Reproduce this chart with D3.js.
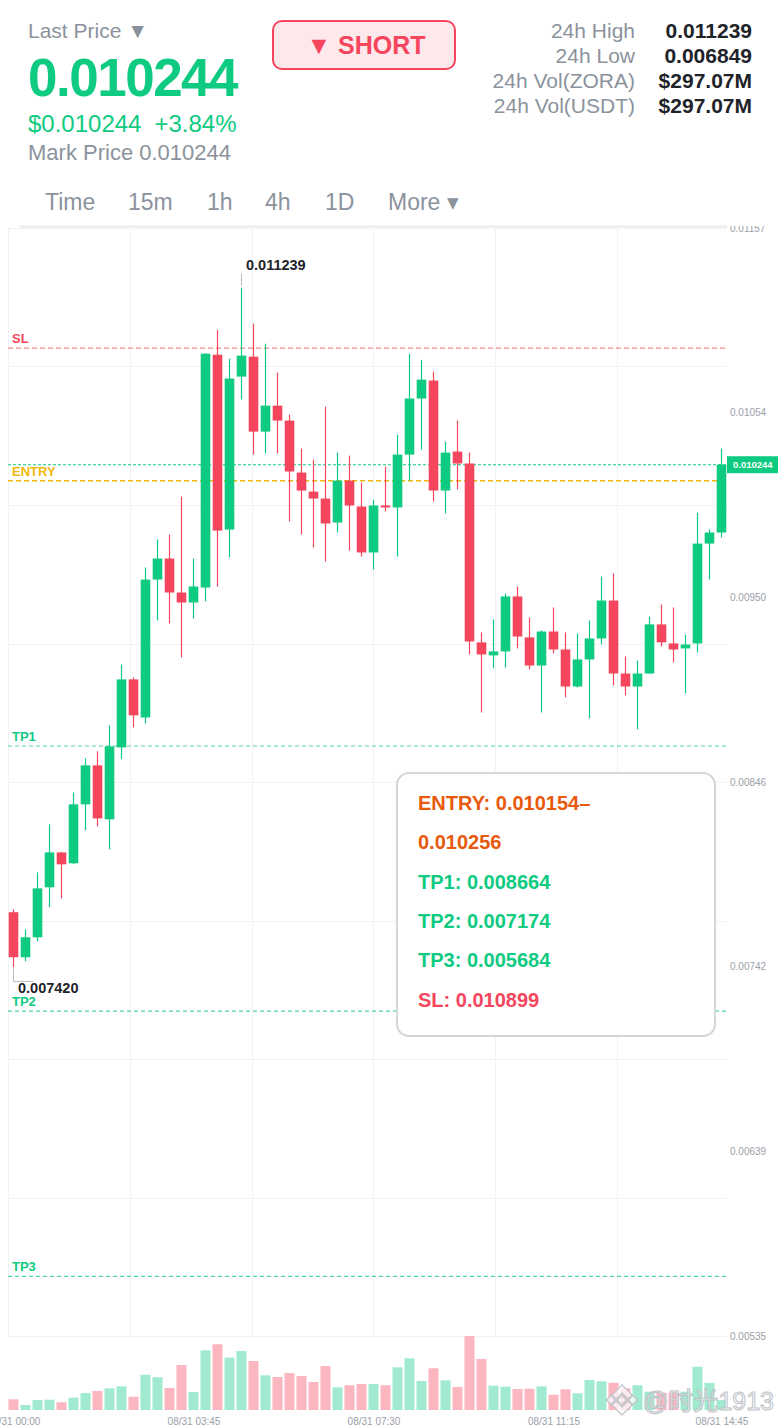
<!DOCTYPE html>
<html>
<head>
<meta charset="utf-8">
<script src="https://cdn.jsdelivr.net/npm/d3@7"></script>
<style>
    body { margin: 0; background: #fff; }
    svg { display: block; font-family: "Liberation Sans", Arial, sans-serif; }
</style>
</head>
<body>
<div id="chart"></div>
<script>
// 15m candles, 08/31 00:00 .. 14:45
const openP = [
    0.007730, 0.007477, 0.007589, 0.007870, 0.008066, 0.008005, 0.008336, 0.008555, 0.008252, 0.008656,
    0.009038, 0.008824, 0.009599, 0.009717, 0.009526, 0.009470, 0.009554, 0.010862, 0.009880, 0.010739,
    0.010851, 0.010430, 0.010576, 0.010492, 0.010200, 0.010093, 0.010054, 0.009919, 0.010155, 0.010009,
    0.009751, 0.010015, 0.010004, 0.010301, 0.010616, 0.010717, 0.010099, 0.010318, 0.010251, 0.009246,
    0.009173, 0.009195, 0.009504, 0.009274, 0.009116, 0.009307, 0.009206, 0.008998, 0.009150, 0.009268,
    0.009481, 0.009071, 0.008998, 0.009071, 0.009347, 0.009240, 0.009212, 0.009240, 0.009801, 0.009863
];
const highP = [
    0.007746, 0.007634, 0.007954, 0.008224, 0.008066, 0.008403, 0.008594, 0.008634, 0.008779, 0.009122,
    0.009049, 0.009667, 0.009824, 0.009852, 0.010065, 0.009717, 0.010870, 0.011003, 0.010840, 0.011239,
    0.011037, 0.010924, 0.010762, 0.010526, 0.010335, 0.010273, 0.010571, 0.010312, 0.010295, 0.010144,
    0.010048, 0.010234, 0.010413, 0.010868, 0.010834, 0.010767, 0.010374, 0.010492, 0.010312, 0.009302,
    0.009375, 0.009521, 0.009560, 0.009386, 0.009313, 0.009442, 0.009302, 0.009296, 0.009369, 0.009616,
    0.009633, 0.009167, 0.009144, 0.009391, 0.009459, 0.009442, 0.009290, 0.009975, 0.009880, 0.010335
];
const lowP = [
    0.007420, 0.007454, 0.007567, 0.007758, 0.007808, 0.008000, 0.008190, 0.008212, 0.008083, 0.008589,
    0.008768, 0.008791, 0.009369, 0.009352, 0.009161, 0.009380, 0.009476, 0.009560, 0.009723, 0.010610,
    0.010301, 0.010307, 0.010307, 0.009925, 0.009852, 0.009779, 0.009700, 0.009863, 0.009762, 0.009728,
    0.009655, 0.009981, 0.009728, 0.010155, 0.010329, 0.010037, 0.009970, 0.010105, 0.009178, 0.008852,
    0.009100, 0.009105, 0.009212, 0.009094, 0.008852, 0.009184, 0.008937, 0.008993, 0.008819, 0.009234,
    0.009004, 0.008948, 0.008757, 0.009071, 0.009223, 0.009133, 0.008959, 0.009189, 0.009599, 0.009835
];
const closeP = [
    0.007477, 0.007589, 0.007864, 0.008066, 0.007999, 0.008336, 0.008555, 0.008257, 0.008662, 0.009038,
    0.008836, 0.009599, 0.009717, 0.009526, 0.009470, 0.009560, 0.010868, 0.009874, 0.010728, 0.010857,
    0.010430, 0.010576, 0.010492, 0.010206, 0.010099, 0.010054, 0.009914, 0.010155, 0.010015, 0.009751,
    0.010015, 0.010004, 0.010301, 0.010616, 0.010722, 0.010099, 0.010312, 0.010251, 0.009251, 0.009178,
    0.009195, 0.009504, 0.009279, 0.009116, 0.009307, 0.009206, 0.008998, 0.009150, 0.009268, 0.009481,
    0.009071, 0.008998, 0.009071, 0.009347, 0.009246, 0.009206, 0.009234, 0.009801, 0.009863, 0.010244
];
// volume, millions
const volume = [
    10.7, 5.0, 10.0, 10.3, 7.7, 12.3, 17.0, 19.0, 21.7, 23.7,
    13.3, 35.3, 32.7, 22.0, 45.0, 18.0, 59.7, 65.7, 52.3, 59.0,
    49.0, 34.7, 33.0, 37.0, 34.0, 28.0, 44.0, 22.7, 24.7, 26.0,
    26.0, 24.7, 42.7, 51.7, 29.0, 41.7, 29.7, 23.0, 74.0, 51.0,
    24.3, 23.3, 21.0, 21.3, 23.7, 15.3, 20.7, 16.7, 30.0, 28.7,
    27.3, 21.7, 24.7, 18.3, 17.3, 17.3, 18.3, 43.3, 27.0, 10.0
];

const timeTickIdx = [0, 15, 30, 45, 59];
const timeTickLabels = ['08/31 00:00', '08/31 03:45', '08/31 07:30', '08/31 11:15', '08/31 14:45'];
const priceTicks = [0.011574, 0.0105365, 0.009499, 0.0084615, 0.007424, 0.0063865, 0.005349];

const levelNames = ['SL', 'ENTRY', 'TP1', 'TP2', 'TP3'];
const levelValues = [0.010899, 0.010154, 0.008664, 0.007174, 0.005684];
const entryHigh = 0.010256;

const lastPrice = 0.010244;
const changePct = 3.84;
const statLabels = ['24h High', '24h Low', '24h Vol(ZORA)', '24h Vol(USDT)'];
const statValues = ['0.011239', '0.006849', '$297.07M', '$297.07M'];
const intervals = ['Time', '15m', '1h', '4h', '1D', 'More ▾'];

const GREEN = '#0ecb81', RED = '#f6465d', GREY = '#8b929c', GOLD = '#f0b90b';

function drawChart() {
    let svgWidth = 780,
        svgHeight = 1428,
        pane = {left: 8, right: 727, top: 228, bottom: 1336, volBottom: 1410},
        svg = d3.select('#chart').append('svg')
                .attr('width', svgWidth)
                .attr('height', svgHeight);

    let data = openP.map((o, i) => ({
        i: i, open: o, high: highP[i], low: lowP[i], close: closeP[i], vol: volume[i]
    }));

    // scales
    let xScale = d3.scaleLinear().domain([0, data.length - 1]).range([13.5, 721.5]),
        yScale = d3.scaleLinear().domain([0.005349, 0.011574]).range([pane.bottom, pane.top]),
        vScale = d3.scaleLinear().domain([0, d3.max(volume)]).range([pane.volBottom, pane.bottom]);

    setUpGrid(svg, pane, yScale);
    setUpLevels(svg, pane, yScale);
    drawVolume(svg, data, xScale, vScale);
    drawCandles(svg, data, xScale, yScale);
    drawExtremes(svg, data, xScale, yScale);
    setUpAxes(svg, pane, xScale, yScale);
    setUpInfoBox(svg);
    setUpHeader(svg, pane);
    setUpWatermark(svg);
}

function setUpGrid(svg, pane, yScale) {
    let grid = svg.append('g').attr('class', 'grid')
                  .attr('stroke', '#f1f2f4').attr('stroke-width', 1);
    // 8 horizontal bands
    let [lo, hi] = yScale.domain();
    grid.selectAll('line.h')
        .data(d3.range(9).map(k => lo + (hi - lo) * k / 8))
        .enter().append('line')
        .attr('class', 'h')
        .attr('x1', pane.left).attr('x2', pane.right)
        .attr('y1', d => Math.round(yScale(d)) + .5)
        .attr('y2', d => Math.round(yScale(d)) + .5);
    grid.selectAll('line.v')
        .data(d3.range(6))
        .enter().append('line')
        .attr('class', 'v')
        .attr('x1', k => Math.round(pane.left + 121.8 * k) + .5)
        .attr('x2', k => Math.round(pane.left + 121.8 * k) + .5)
        .attr('y1', pane.top).attr('y2', pane.bottom);
}

function setUpLevels(svg, pane, yScale) {
    let g = svg.append('g').attr('class', 'levels');
    let colorOf = name => name === 'SL' ? RED : name === 'ENTRY' ? GOLD : GREEN;

    // last price line
    g.append('line')
     .attr('x1', pane.left).attr('x2', pane.right)
     .attr('y1', yScale(lastPrice)).attr('y2', yScale(lastPrice))
     .attr('stroke', GREEN).attr('stroke-width', 1.1)
     .attr('stroke-dasharray', '3,2');

    levelNames.forEach((name, i) => {
        let y = yScale(levelValues[i]);
        g.append('line')
         .attr('x1', pane.left).attr('x2', pane.right)
         .attr('y1', y).attr('y2', y)
         .attr('stroke', colorOf(name))
         .attr('stroke-opacity', name === 'SL' ? .65 : name === 'ENTRY' ? 1 : .75)
         .attr('stroke-width', name.startsWith('TP') ? 1.1 : 1.3)
         .attr('stroke-dasharray', name.startsWith('TP') ? '4,3' : '5,3');
        g.append('text')
         .attr('x', 12).attr('y', y - 5)
         .attr('fill', colorOf(name))
         .attr('font-weight', 'bold').attr('font-size', 13)
         .text(name);
    });
}

function drawVolume(svg, data, xScale, vScale) {
    svg.append('g').attr('class', 'volume')
       .selectAll('rect')
       .data(data).enter().append('rect')
       .attr('x', d => xScale(d.i) - 5)
       .attr('width', 10)
       .attr('y', d => vScale(d.vol))
       .attr('height', d => vScale(0) - vScale(d.vol))
       .attr('fill', d => d.close >= d.open ? '#a0ebcf' : '#fbb6bf');
}

function drawCandles(svg, data, xScale, yScale) {
    let candles = svg.append('g').attr('class', 'candles')
                     .selectAll('g')
                     .data(data).enter().append('g');
    candles.append('line')
           .attr('x1', d => xScale(d.i)).attr('x2', d => xScale(d.i))
           .attr('y1', d => yScale(d.high)).attr('y2', d => yScale(d.low))
           .attr('stroke', d => d.close >= d.open ? GREEN : RED)
           .attr('stroke-width', 1.2);
    candles.append('rect')
           .attr('x', d => xScale(d.i) - 4.8)
           .attr('width', 9.6)
           .attr('y', d => yScale(Math.max(d.open, d.close)))
           .attr('height', d => Math.max(1.5, Math.abs(yScale(d.open) - yScale(d.close))))
           .attr('fill', d => d.close >= d.open ? GREEN : RED);
}

function drawExtremes(svg, data, xScale, yScale) {
    let g = svg.append('g').attr('class', 'extremes')
               .attr('font-weight', 'bold').attr('font-size', 14.5)
               .attr('fill', '#1e2329'),
        hi = data[d3.maxIndex(data, d => d.high)],
        lo = data[d3.minIndex(data, d => d.low)],
        hx = xScale(hi.i), hy = yScale(hi.high),
        lx = xScale(lo.i), ly = yScale(lo.low);

    g.append('line')
     .attr('x1', hx).attr('x2', hx).attr('y1', hy - 14).attr('y2', hy - 2)
     .attr('stroke', '#b7bcc4').attr('stroke-width', 1);
    g.append('text').attr('x', hx + 4.5).attr('y', hy - 18)
     .text(hi.high.toFixed(6));

    g.append('path')
     .attr('d', `M${lx},${ly + 1}V${ly + 14}H${lx + 20}`)
     .attr('fill', 'none').attr('stroke', '#b7bcc4').attr('stroke-width', 1);
    g.append('text').attr('x', lx + 4.5).attr('y', ly + 26)
     .text(lo.low.toFixed(6));
}

function setUpAxes(svg, pane, xScale, yScale) {
    let yAxis = d3.axisRight(yScale)
                  .tickValues(priceTicks)
                  .tickFormat(d3.format('.5f'))
                  .tickSize(0).tickPadding(3);
    svg.append('g')
       .attr('class', 'axis y-axis')
       .attr('transform', `translate(${pane.right}, 0)`)
       .call(yAxis);
    let xAxis = d3.axisBottom(xScale)
                  .tickValues(timeTickIdx)
                  .tickFormat((d, i) => timeTickLabels[i])
                  .tickSize(0).tickPadding(0);
    svg.append('g')
       .attr('class', 'axis x-axis')
       .attr('transform', 'translate(0, 1418)')
       .call(xAxis);

    svg.selectAll('.axis path.domain').remove();
    svg.selectAll('.axis text')
       .attr('fill', '#9aa0a8')
       .attr('font-size', 10)
       .attr('font-family', '"Liberation Sans", Arial, sans-serif');

    // current price tag
    let tag = svg.append('g').attr('transform', `translate(${pane.right}, ${yScale(lastPrice)})`);
    tag.append('rect').attr('x', 0).attr('y', -8.5).attr('width', 51).attr('height', 17)
       .attr('fill', GREEN);
    tag.append('text').attr('x', 6).attr('y', 3.5)
       .attr('fill', '#fff').attr('font-weight', 'bold').attr('font-size', 9.5)
       .text(lastPrice.toFixed(6));
}

function setUpInfoBox(svg) {
    let box = svg.append('g').attr('class', 'info-box')
                 .attr('transform', 'translate(397, 773)')
                 .attr('font-weight', 'bold').attr('font-size', 20);
    box.append('rect')
       .attr('width', 318).attr('height', 263).attr('rx', 12)
       .attr('fill', '#fff').attr('stroke', '#d3d6db').attr('stroke-width', 2);
    let lines = [
        [`ENTRY: ${levelValues[1].toFixed(6)}–`, '#e8590c'],
        [entryHigh.toFixed(6), '#e8590c'],
        [`TP1: ${levelValues[2].toFixed(6)}`, GREEN],
        [`TP2: ${levelValues[3].toFixed(6)}`, GREEN],
        [`TP3: ${levelValues[4].toFixed(6)}`, GREEN],
        [`SL: ${levelValues[0].toFixed(6)}`, RED],
    ];
    box.selectAll('text.line')
       .data(lines).enter().append('text')
       .attr('class', 'line')
       .attr('x', 21)
       .attr('y', (d, i) => 37 + 39.3 * i)
       .attr('fill', d => d[1])
       .text(d => d[0]);
}

function setUpHeader(svg, pane) {
    let header = svg.append('g').attr('class', 'header');
    header.append('rect').attr('width', 780).attr('height', 226).attr('fill', '#fff');
    header.append('line')
          .attr('x1', 20).attr('x2', pane.right).attr('y1', 226.5).attr('y2', 226.5)
          .attr('stroke', '#e8eaed').attr('stroke-width', 2);

    header.append('text').attr('x', 28).attr('y', 38)
          .attr('font-size', 21).attr('fill', GREY)
          .text('Last Price ▼');
    header.append('text').attr('x', 28).attr('y', 96)
          .attr('font-size', 53).attr('font-weight', 'bold')
          .attr('letter-spacing', -1.5).attr('fill', GREEN)
          .text(lastPrice.toFixed(6));
    let sub = header.append('text').attr('x', 28).attr('y', 132)
                    .attr('font-size', 24).attr('fill', GREEN);
    sub.append('tspan').text('$' + lastPrice.toFixed(6));
    sub.append('tspan').attr('dx', 13).text('+' + changePct.toFixed(2) + '%');
    header.append('text').attr('x', 28).attr('y', 160)
          .attr('font-size', 22).attr('fill', GREY)
          .text('Mark Price ' + lastPrice.toFixed(6));

    // short badge
    header.append('rect')
          .attr('x', 273).attr('y', 21).attr('width', 182).attr('height', 48).attr('rx', 9)
          .attr('fill', '#fde8eb').attr('stroke', RED).attr('stroke-width', 2);
    header.append('text').attr('x', 366).attr('y', 54)
          .attr('text-anchor', 'middle')
          .attr('font-size', 25).attr('font-weight', 'bold').attr('fill', RED)
          .text('▼ SHORT');

    // 24h stats
    header.selectAll('text.stat-label')
          .data(statLabels).enter().append('text')
          .attr('class', 'stat-label')
          .attr('x', 635).attr('y', (d, i) => 38 + 25 * i)
          .attr('text-anchor', 'end')
          .attr('font-size', 21).attr('fill', GREY)
          .text(d => d);
    header.selectAll('text.stat-value')
          .data(statValues).enter().append('text')
          .attr('class', 'stat-value')
          .attr('x', 752).attr('y', (d, i) => 38 + 25 * i)
          .attr('text-anchor', 'end')
          .attr('font-size', 21).attr('font-weight', 'bold').attr('fill', '#1e2329')
          .text(d => d);

    // interval tabs
    let tabX = [45, 128, 207, 265, 325, 388];
    header.selectAll('text.tab')
          .data(intervals).enter().append('text')
          .attr('class', 'tab')
          .attr('x', (d, i) => tabX[i]).attr('y', 210)
          .attr('font-size', 23).attr('fill', GREY)
          .text(d => d);
}

function setUpWatermark(svg) {
    let wm = svg.append('g').attr('class', 'watermark');
    let logo = wm.append('g').attr('transform', 'translate(622, 1400)')
                 .attr('fill', 'rgba(255,255,255,.7)').attr('stroke', '#c3c7cd').attr('stroke-width', 1.4);
    // binance-like mark: three small diamonds and two chevrons
    [-11, 0, 11].forEach(dx => {
        logo.append('rect').attr('x', -3.2).attr('y', -3.2).attr('width', 6.4).attr('height', 6.4)
            .attr('transform', `translate(${dx}, 0) rotate(45)`);
    });
    logo.append('path').attr('d', 'M-10,-5L0,-15L10,-5L6,-1L0,-7L-6,-1Z');
    logo.append('path').attr('d', 'M-10,5L0,15L10,5L6,1L0,7L-6,1Z');
    wm.append('text').attr('x', 643).attr('y', 1410)
      .attr('font-size', 25).attr('fill', 'rgba(255,255,255,.6)')
      .attr('stroke', '#bcc0c6').attr('stroke-width', 1)
      .attr('font-family', '"Liberation Sans", "Noto Sans CJK SC", sans-serif')
      .text('@时光1913');
}

drawChart();
</script>
</body>
</html>
